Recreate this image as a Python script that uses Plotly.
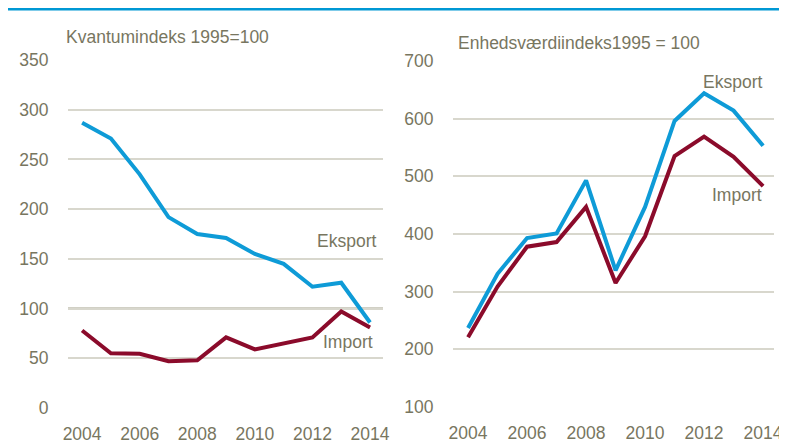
import plotly.graph_objects as go

years = [2004, 2005, 2006, 2007, 2008, 2009, 2010, 2011, 2012, 2013, 2014]
kvantum_eksport = [287, 271, 235, 192, 175, 171, 155, 145, 122, 126, 86]
kvantum_import = [78, 55, 54.5, 47, 48, 71, 59, 65, 71, 97, 81]
enhed_eksport = [237, 331, 393, 401, 493, 337, 447, 596, 644, 614, 553]
enhed_import = [221, 309, 378, 386, 447, 315, 396, 535, 569, 534, 483]
x_ticks = [2004, 2006, 2008, 2010, 2012, 2014]
left_ticks = [0, 50, 100, 150, 200, 250, 300, 350]
right_ticks = [100, 200, 300, 400, 500, 600, 700]

BLUE = "#0e9bd7"
RED = "#8b0b2b"
TXT = "#78765f"
GRID = "#d8d7cd"
FONT = "Liberation Sans, Arial, sans-serif"
FS = 17.5

# page body has an 8px margin; figure sits at (8, 8) in the window
OFF = 8
W, H = 787 - OFF, 446 - OFF

def px_x(x):
    return (x - OFF) / W
def px_y(y):
    return 1 - (y - OFF) / H
def dx(a, b):
    return [px_x(a), px_x(b)]
def dy(top, bottom):
    return [px_y(bottom), px_y(top)]

fig = go.Figure()
fig.add_trace(go.Scatter(x=years, y=kvantum_eksport, mode="lines", line=dict(color=BLUE, width=4),
                         xaxis="x", yaxis="y", showlegend=False))
fig.add_trace(go.Scatter(x=years, y=kvantum_import, mode="lines", line=dict(color=RED, width=4),
                         xaxis="x", yaxis="y", showlegend=False))
fig.add_trace(go.Scatter(x=years, y=enhed_eksport, mode="lines", line=dict(color=BLUE, width=4),
                         xaxis="x2", yaxis="y2", showlegend=False))
fig.add_trace(go.Scatter(x=years, y=enhed_import, mode="lines", line=dict(color=RED, width=4),
                         xaxis="x2", yaxis="y2", showlegend=False))

common_x = dict(tickvals=x_ticks, showgrid=False, zeroline=False, showline=False,
                ticks="outside", ticklen=10, tickcolor="rgba(0,0,0,0)",
                tickfont=dict(family=FONT, size=FS, color=TXT), automargin=False)
common_y = dict(showgrid=True, gridcolor=GRID, gridwidth=1.5, zeroline=False, showline=False,
                ticks="outside", ticklen=15, tickcolor="rgba(0,0,0,0)",
                tickfont=dict(family=FONT, size=FS, color=TXT), automargin=False)

fig.update_layout(
    width=W, height=H,
    margin=dict(l=0, r=0, t=0, b=0),
    paper_bgcolor="white", plot_bgcolor="white",
    xaxis=dict(domain=dx(68, 383), range=[2003.51, 2014.45], anchor="y", **common_x),
    yaxis=dict(domain=dy(60, 408), range=[0, 350], tickvals=left_ticks, anchor="x", **common_y),
    xaxis2=dict(domain=dx(453, 774), range=[2003.49, 2014.37], anchor="y2", **common_x),
    yaxis2=dict(domain=dy(61, 407), range=[100, 700], tickvals=right_ticks, anchor="x2", **common_y),
)

# darker 100-line in left panel
fig.add_shape(type="line", xref="x domain", yref="y", x0=0, x1=1, y0=100, y1=100,
              line=dict(color="#a3a28c", width=2), layer="below")
# top blue rule
fig.add_shape(type="line", xref="paper", yref="paper", x0=0, x1=1, y0=px_y(9), y1=px_y(9),
              line=dict(color="#0098d4", width=3))

ann_font = dict(family=FONT, size=FS, color=TXT)
fig.add_annotation(text="Kvantumindeks 1995=100", xref="paper", yref="paper", x=px_x(64), y=px_y(37),
                   xanchor="left", yanchor="middle", showarrow=False, font=ann_font)
fig.add_annotation(text="Enhedsværdiindeks1995 = 100", xref="paper", yref="paper", x=px_x(456), y=px_y(43),
                   xanchor="left", yanchor="middle", showarrow=False, font=ann_font)
fig.add_annotation(text="Eksport", xref="paper", yref="paper", x=px_x(378), y=px_y(241),
                   xanchor="right", yanchor="middle", showarrow=False, font=ann_font)
fig.add_annotation(text="Import", xref="paper", yref="paper", x=px_x(375), y=px_y(342),
                   xanchor="right", yanchor="middle", showarrow=False, font=ann_font)
fig.add_annotation(text="Eksport", xref="paper", yref="paper", x=px_x(764), y=px_y(82),
                   xanchor="right", yanchor="middle", showarrow=False, font=ann_font)
fig.add_annotation(text="Import", xref="paper", yref="paper", x=px_x(764), y=px_y(195),
                   xanchor="right", yanchor="middle", showarrow=False, font=ann_font)

fig.write_html("out.html")
